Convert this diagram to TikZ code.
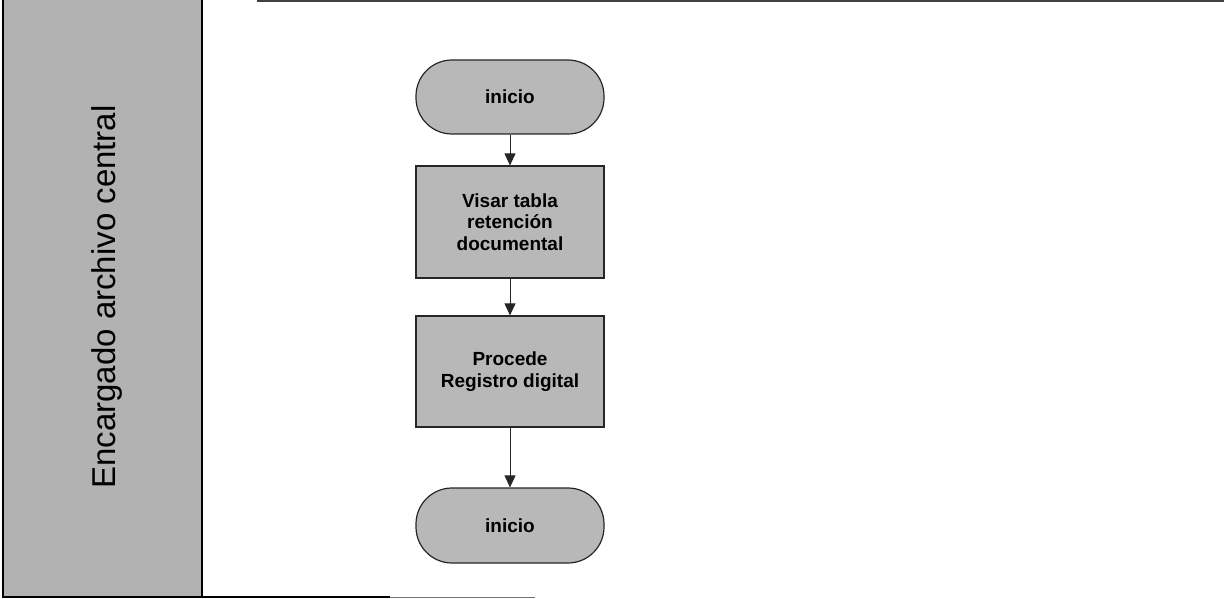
\documentclass[tikz,border=0pt]{standalone}
\usepackage{fontspec}
\setmainfont{Liberation Sans}
\usetikzlibrary{arrows.meta}

\tikzset{
  lanefill/.style={fill=black!30},
  stepbox/.style={draw=black!85, line width=1.2pt, fill=black!28,
    minimum width=188pt, align=center,
    font=\bfseries\fontsize{19}{21.5}\selectfont, inner sep=0pt},
  terminal/.style={stepbox, rounded corners=36pt},
  flow/.style={draw=black!85, line width=0.9pt,
    -{Triangle[width=11pt,length=12pt]}},
  frame/.style={draw=black, line width=2pt},
}

\begin{document}
\begin{tikzpicture}[x=1pt, y=-1pt]
  \useasboundingbox (0,0) rectangle (1224,599);

  % swimlane header
  \path[lanefill] (3,0) rectangle (202,597);
  \draw[frame] (3,0) -- (3,597) -- (202,597) -- (202,0);
  \node[rotate=90, font=\fontsize{33}{36}\selectfont] (lane) at (107,297)
    {Encargado archivo central};

  % outer frame of the lane body
  \draw[black!75, line width=1.2pt] (257,1) -- (1224,1);
  \draw[black, line width=1.5pt] (202,597) -- (390,597);
  \draw[black!55, line width=1pt] (390,597) -- (535,597);

  % flow steps
  \node[terminal, minimum height=74pt] (start) at (510,97) {inicio};
  \node[stepbox, minimum height=112pt] (visar) at (510,222)
    {Visar tabla\\retención\\documental};
  \node[stepbox, minimum height=111pt] (registro) at (510,371.5)
    {Procede\\Registro digital};
  \node[terminal, minimum height=75pt] (fin) at (510,525.5) {inicio};

  % connectors
  \draw[flow] (start) -- (visar);
  \draw[flow] (visar) -- (registro);
  \draw[flow] (registro) -- (fin);
\end{tikzpicture}
\end{document}
